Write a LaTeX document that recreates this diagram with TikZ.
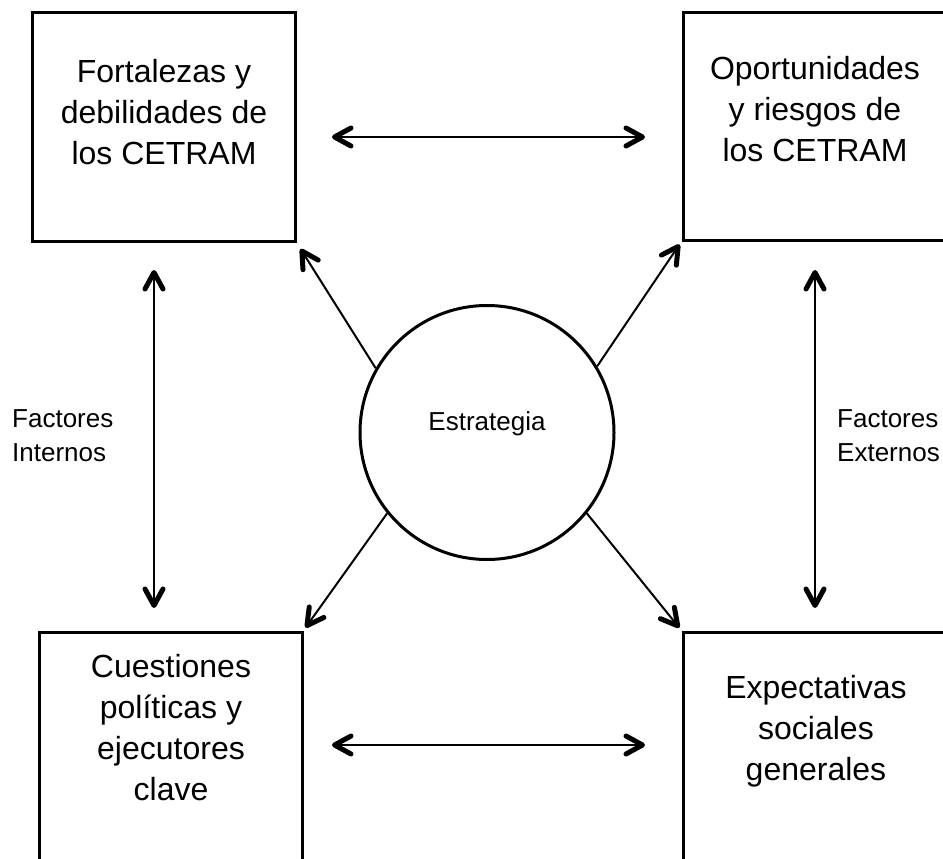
\documentclass[tikz,border=0pt]{standalone}
\usepackage{fontspec}
\setmainfont{Liberation Sans}
\usetikzlibrary{calc,decorations.markings}
\tikzset{
  boxst/.style={draw,line width=3pt,rectangle,inner sep=0pt},
  circst/.style={draw,line width=3pt,circle,inner sep=0pt,minimum size=254pt},
  conn/.style={line width=2pt},
  headline/.style={draw=black,line width=5pt,line cap=round,line join=round},
  headend/.style={postaction={decorate,decoration={markings,
      mark=at position 1 with {\draw[headline] (-16.5pt,9pt) -- (0pt,0pt) -- (-16.5pt,-9pt);}}}},
  headstart/.style={postaction={decorate,decoration={markings,
      mark=at position 0 with {\draw[headline] (16.5pt,9pt) -- (0pt,0pt) -- (16.5pt,-9pt);}}}},
  bigtxt/.style={inner sep=0pt,anchor=base,font=\fontsize{32}{41}\selectfont},
  smtxt/.style={inner sep=0pt,anchor=base west,align=left,font=\fontsize{26}{34}\selectfont},
}
\begin{document}
\begin{tikzpicture}[x=1pt,y=-1pt]
\clip (0,0) rectangle (943,859);
\fill[white] (0,0) rectangle (943,859);
% boxes
\node[boxst,minimum width=263pt,minimum height=228pt] (b1) at (163.5,127) {};
\node[boxst,minimum width=272pt,minimum height=227pt] (b2) at (819,126.5) {};
\node[boxst,minimum width=263pt,minimum height=240pt] (b3) at (170.5,752) {};
\node[boxst,minimum width=272pt,minimum height=240pt] (b4) at (819,752) {};
% circle
\node[circst] (c) at (487,432.5) {};
% texts
\node[bigtxt] (t1) at (164,82) {\begin{tabular}[t]{@{}c@{}}Fortalezas y\\debilidades de\\los CETRAM\end{tabular}};
\node[bigtxt] (t2) at (815,80) {\begin{tabular}[t]{@{}c@{}}Oportunidades\\y riesgos de\\los CETRAM\end{tabular}};
\node[bigtxt] (t3) at (171,677) {\begin{tabular}[t]{@{}c@{}}Cuestiones\\políticas y\\ejecutores\\clave\end{tabular}};
\node[bigtxt] (t4) at (816,698) {\begin{tabular}[t]{@{}c@{}}Expectativas\\sociales\\generales\end{tabular}};
\node[inner sep=0pt,anchor=base,font=\fontsize{26}{34}\selectfont] (tc) at (487,430) {Estrategia};
\node[smtxt] (li) at (12,427) {\begin{tabular}[t]{@{}l@{}}Factores\\Internos\end{tabular}};
\node[smtxt] (le) at (837,427) {\begin{tabular}[t]{@{}l@{}}Factores\\Externos\end{tabular}};
% arrow ends
\coordinate (h1a) at (334.5,137);
\coordinate (h1b) at (642.5,137);
\coordinate (h2a) at (334.5,745);
\coordinate (h2b) at (642.5,745);
\coordinate (v1a) at (154,272.5);
\coordinate (v1b) at (154,605.5);
\coordinate (v2a) at (815,272.5);
\coordinate (v2b) at (815,605.5);
\coordinate (e1) at ($(b1.south east)!10pt!(c.150)$);
\coordinate (e2) at ($(b2.south west)!6pt!(c.31)$);
\coordinate (e3) at ($(b3.north east)!6pt!(c.219)$);
\coordinate (e4) at ($(b4.north west)!6pt!(c.321)$);
% connectors
\draw[conn,headstart,headend] (h1a) -- (h1b);
\draw[conn,headstart,headend] (h2a) -- (h2b);
\draw[conn,headstart,headend] (v1a) -- (v1b);
\draw[conn,headstart,headend] (v2a) -- (v2b);
\draw[conn,headend] (c.150) -- (e1);
\draw[conn,headend] (c.31) -- (e2);
\draw[conn,headend] (c.219) -- (e3);
\draw[conn,headend] (c.321) -- (e4);
\end{tikzpicture}
\end{document}
